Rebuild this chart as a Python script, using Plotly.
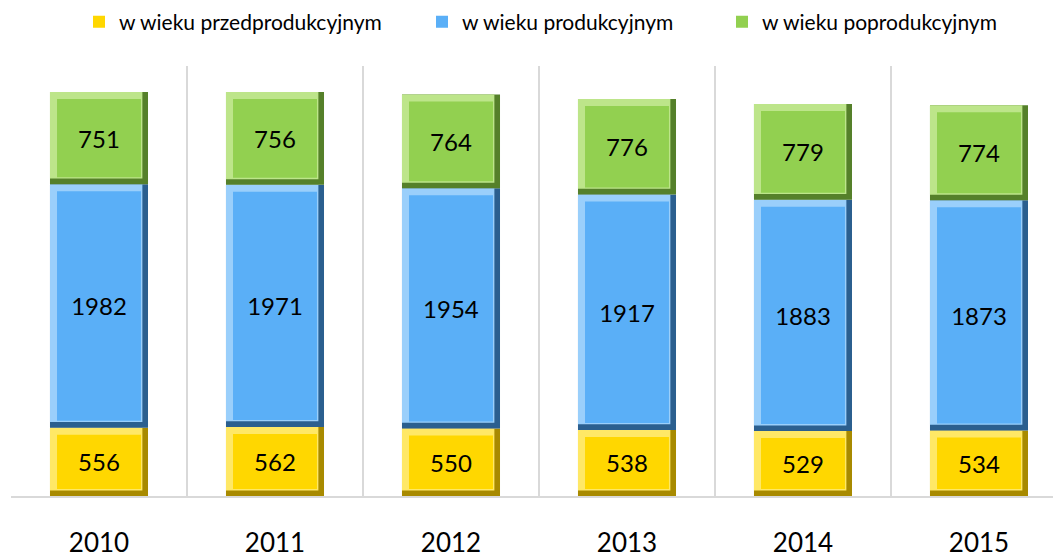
import plotly.graph_objects as go

years = ["2010", "2011", "2012", "2013", "2014", "2015"]
pre = [556, 562, 550, 538, 529, 534]
prod = [1982, 1971, 1954, 1917, 1883, 1873]
post = [751, 756, 764, 776, 779, 774]
series_names = ["w wieku przedprodukcyjnym", "w wieku produkcyjnym", "w wieku poprodukcyjnym"]

# (face, light edge, dark edge)
palette = [
    ("#FFD700", "#FFE866", "#A88A00"),
    ("#5AAFF7", "#9ACFFB", "#2B5F8F"),
    ("#92D050", "#BDE58A", "#55802A"),
]
legend_ids = ["legend", "legend2", "legend3"]
legend_px = [71, 414, 714]   # left positions of the legend boxes (figure px)

W = 0.557       # bar width in category units
PX = 0.04       # bevel width in category units
PY = 57         # bevel height in value units

fig = go.Figure()
bases = [0] * len(years)
for name, vals, (face, light, dark), lg in zip(series_names, [pre, prod, post], palette, legend_ids):
    # dark frame (full)
    fig.add_bar(x=years, y=vals, base=bases, width=[W] * len(years), offset=[-W / 2] * len(years),
                marker=dict(color=dark, line=dict(width=0)), showlegend=False, hoverinfo="skip")
    # light top/left bevel
    fig.add_bar(x=years, y=[v - PY * 0.8 for v in vals], base=[b + PY * 0.8 for b in bases],
                width=[W - PX * 0.8] * len(years), offset=[-W / 2] * len(years),
                marker=dict(color=light, line=dict(width=0)), showlegend=False, hoverinfo="skip")
    # face
    fig.add_bar(x=years, y=[v - 2 * PY for v in vals], base=[b + PY for b in bases],
                width=[W - 2 * PX] * len(years), offset=[-W / 2 + PX] * len(years),
                marker=dict(color=face, line=dict(width=0)), name=name, legend=lg,
                text=[str(v) for v in vals], textposition="inside", insidetextanchor="middle",
                textangle=0, constraintext="none",
                textfont=dict(family="Lato", size=24, color="black"), hoverinfo="skip")
    bases = [b + v for b, v in zip(bases, vals)]

legend_common = dict(orientation="h", xanchor="left", y=1 - 14 / 559, yanchor="middle",
                     xref="container", yref="container", font=dict(size=21, family="Lato"),
                     itemwidth=30, bgcolor="rgba(0,0,0,0)")
fig.update_layout(
    width=1061, height=559,
    margin=dict(l=3, r=8, t=58, b=71, autoexpand=False),
    barmode="overlay",
    plot_bgcolor="white", paper_bgcolor="white",
    font=dict(family="Lato", color="black"),
    showlegend=True,
    legend=dict(x=legend_px[0] / 1061, **legend_common),
    legend2=dict(x=legend_px[1] / 1061, **legend_common),
    legend3=dict(x=legend_px[2] / 1061, **legend_common),
)
fig.update_xaxes(type="category", range=[-0.5, 5.466], tickson="boundaries", automargin=False,
                 showgrid=True, gridcolor="#D9D9D9", gridwidth=1.5,
                 showline=True, linecolor="#D9D9D9", linewidth=2,
                 ticks="", ticklabelstandoff=23,
                 tickfont=dict(family="Lato", size=26, color="black"))
fig.update_yaxes(range=[0, 3500], showgrid=False, showticklabels=False, zeroline=False,
                 showline=False, automargin=False)

fig.write_html("out.html")
